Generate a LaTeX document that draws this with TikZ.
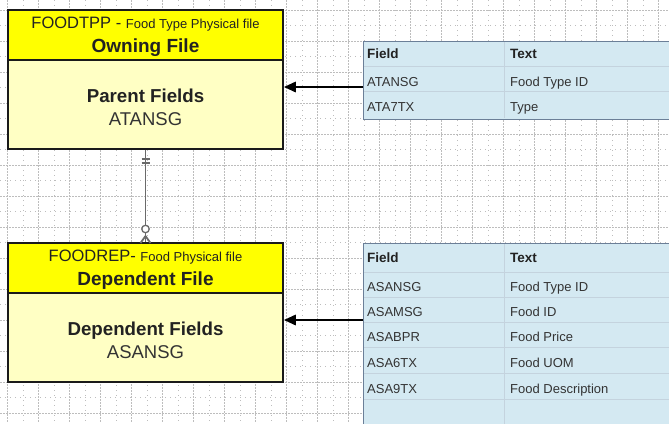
\documentclass[tikz,border=0pt]{standalone}
\usepackage{fontspec}
\setmainfont{Liberation Sans}
\usetikzlibrary{arrows.meta}
\definecolor{hdryel}{HTML}{FFFF00}
\definecolor{bodyyel}{HTML}{FFFFC4}
\definecolor{tblfill}{HTML}{D4E9F2}
\definecolor{tblborder}{HTML}{6B7F98}
\definecolor{tblrule}{HTML}{C4D3DE}
\definecolor{gridc}{HTML}{BDBDBD}
\definecolor{boxline}{HTML}{1A1A1A}
\definecolor{conngray}{HTML}{6A6A6A}
\definecolor{txtdark}{HTML}{222222}
\definecolor{txtgray}{HTML}{333333}
\begin{document}
\begin{tikzpicture}[x=1pt,y=-1pt,
  majorgrid/.style={gridc, line width=0.7pt, dash pattern=on 1.5pt off 1.5pt},
  minorgrid/.style={gridc, line width=0.7pt, dash pattern=on 1pt off 4pt},
  hdrbox/.style={draw=boxline, fill=hdryel, line width=1.5pt, minimum width=275pt, minimum height=50pt, inner sep=0pt},
  bodybox/.style={draw=boxline, fill=bodyyel, line width=1.5pt, minimum width=275pt, minimum height=89pt, inner sep=0pt},
  tbl/.style={draw=tblborder, fill=tblfill, line width=1.2pt, anchor=north west, inner sep=0pt, minimum width=330pt},
  rule/.style={tblrule, line width=1pt},
  arr/.style={-{Triangle[length=12pt,width=10pt]}, line width=2.8pt, black},
  conn/.style={conngray, line width=1.8pt},
  bigtxt/.style={anchor=base, inner sep=0pt, text=txtdark},
  tbltxt/.style={anchor=base west, inner sep=0pt, text=txtgray, font=\fontsize{13}{15}\selectfont},
  tblhdr/.style={anchor=base west, inner sep=0pt, text=txtdark, font=\fontsize{13.5}{15}\selectfont\bfseries}
]
\useasboundingbox (0,0) rectangle (669,423);
\clip (0,0) rectangle (669,423);
\fill[white] (0,0) rectangle (669,423);
% grid
\foreach \i in {0,...,21} {
  \draw[majorgrid] (7.5+31*\i,0) -- (7.5+31*\i,423);
  \draw[minorgrid] (23+31*\i,0) -- (23+31*\i,423);
}
\foreach \j in {0,...,13} {
  \draw[majorgrid] (0,10+31*\j) -- (669,10+31*\j);
  \draw[minorgrid] (0,25.5+31*\j) -- (669,25.5+31*\j);
}
% owning file
\node[hdrbox] (hdr1) at (145.5,35) {};
\node[bodybox] (body1) at (145.5,104.5) {};
\node[bigtxt] (t1a) at (145.5,28.3) {\fontsize{16.5}{18}\selectfont FOODTPP - \fontsize{13}{15}\selectfont Food Type Physical file};
\node[bigtxt] (t1b) at (145.5,52) {\fontsize{19}{21}\selectfont\bfseries Owning File};
\node[bigtxt] (t1c) at (145.5,102) {\fontsize{18.7}{21}\selectfont\bfseries Parent Fields};
\node[bigtxt, text=txtgray] (t1d) at (145.5,125) {\fontsize{18.5}{21}\selectfont ATANSG};
% dependent file
\node[hdrbox] (hdr2) at (145.5,268) {};
\node[bodybox] (body2) at (145.5,337.5) {};
\node[bigtxt] (t2a) at (145.5,261.7) {\fontsize{16.5}{18}\selectfont FOODREP- \fontsize{13}{15}\selectfont Food Physical file};
\node[bigtxt] (t2b) at (145.5,285) {\fontsize{19}{21}\selectfont\bfseries Dependent File};
\node[bigtxt] (t2c) at (145.5,335) {\fontsize{18.7}{21}\selectfont\bfseries Dependent Fields};
\node[bigtxt, text=txtgray] (t2d) at (145.5,358) {\fontsize{18.5}{21}\selectfont ASANSG};
% relationship connector
\node[circle, draw=conngray, fill=white, line width=1.3pt, minimum size=7.5pt, inner sep=0pt] (circ) at (145.5,229) {};
\draw[conn] (body1.south) -- (circ.north);
\draw[conn] (141.5,159) -- (149.5,159);
\draw[conn] (141.5,163) -- (149.5,163);
\coordinate (apex) at (145.5,236);
\draw[conn] (circ.south) -- (hdr2.north);
\draw[conn] (apex) -- (140.5,243);
\draw[conn] (apex) -- (150.5,243);
% table 1
\node[tbl, minimum height=78pt] (tab1) at (363,41) {};
\draw[rule] (364,66) -- (680,66);
\draw[rule] (364,91) -- (680,91);
\draw[rule] (504,42) -- (504,118);
\node[tblhdr] (f1h) at (367,58.3) {Field};
\node[tblhdr] (x1h) at (510,58.3) {Text};
\node[tbltxt] (f1a) at (367,86.7) {ATANSG};
\node[tbltxt] (x1a) at (510,86.7) {Food Type ID};
\node[tbltxt] (f1b) at (367,111.7) {ATA7TX};
\node[tbltxt] (x1b) at (510,111.7) {Type};
% table 2
\node[tbl, minimum height=200pt] (tab2) at (363,243) {};
\foreach \y in {272,297,322,347,373,399} { \draw[rule] (364,\y) -- (680,\y); }
\draw[rule] (504,244) -- (504,430);
\node[tblhdr] (f2h) at (367,262.7) {Field};
\node[tblhdr] (x2h) at (510,262.7) {Text};
\node[tbltxt] (f2a) at (367,291.7) {ASANSG};
\node[tbltxt] (x2a) at (510,291.7) {Food Type ID};
\node[tbltxt] (f2b) at (367,316.7) {ASAMSG};
\node[tbltxt] (x2b) at (510,316.7) {Food ID};
\node[tbltxt] (f2c) at (367,341.7) {ASABPR};
\node[tbltxt] (x2c) at (510,341.7) {Food Price};
\node[tbltxt] (f2d) at (367,367.7) {ASA6TX};
\node[tbltxt] (x2d) at (510,367.7) {Food UOM};
\node[tbltxt] (f2e) at (367,393.3) {ASA9TX};
\node[tbltxt] (x2e) at (510,393.3) {Food Description};
% arrows
\coordinate (a1) at (363,87);
\coordinate (a2) at (363,320);
\draw[arr] (a1) -- (a1 -| body1.east);
\draw[arr] (a2) -- (a2 -| body2.east);
\end{tikzpicture}
\end{document}
